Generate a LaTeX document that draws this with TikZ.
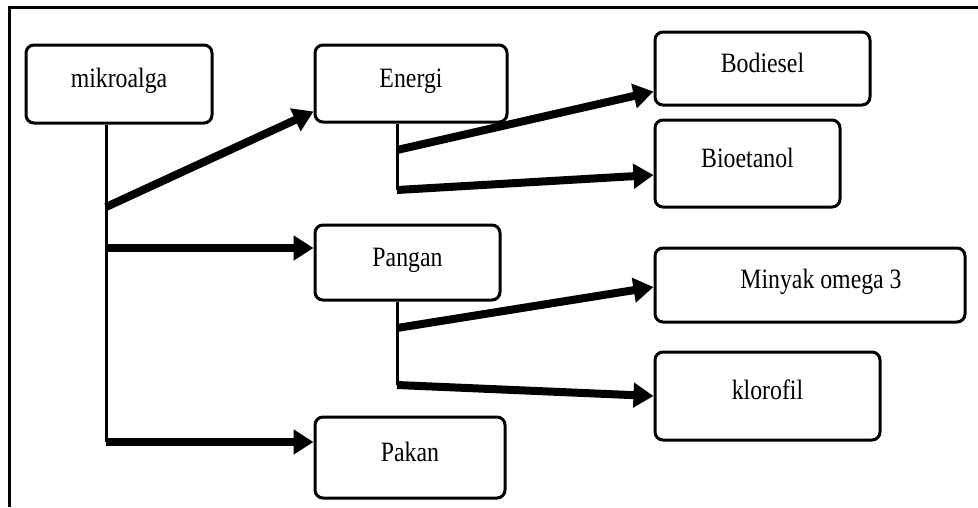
\documentclass[tikz,border=0pt]{standalone}
\usepackage{fontspec}
\setmainfont[FakeStretch=0.85]{Liberation Serif}
\usetikzlibrary{arrows.meta}

\begin{document}
\begin{tikzpicture}[x=1pt, y=-1pt, >={Triangle[length=20pt,width=24pt]},
  box/.style={draw, line width=3pt, rounded corners=8pt, inner sep=0pt,
    font=\fontsize{28}{30}\selectfont, text height=19pt, text depth=12pt},
  trunk/.style={line width=3pt},
  fat/.style={->, line width=8pt}]
\useasboundingbox (0,0) rectangle (978,507);
\draw[trunk] (9,507) -- (9,7) -- (978,7);

\node (mikro) at (119,84) [box, minimum width=186pt, minimum height=78pt] {mikroalga};
\node (energi) at (411,83.5) [box, minimum width=192pt, minimum height=77pt] {Energi};
\node (pangan) at (407.5,262.5) [box, minimum width=185pt, minimum height=75pt] {Pangan};
\node (pakan) at (410,457.5) [box, minimum width=190pt, minimum height=81pt] {Pakan};
\node (bodi) at (762.5,68.5) [box, minimum width=215pt, minimum height=73pt] {Bodiesel};
\node (bioet) at (747.5,163.5) [box, minimum width=185pt, minimum height=87pt] {Bioetanol};
\node (minyak) at (810,285) [box, minimum width=310pt, minimum height=74pt] {\hspace{22pt}Minyak omega 3};
\node (klor) at (767.5,396) [box, minimum width=225pt, minimum height=88pt] {klorofil};

\coordinate (m1) at (106,207);
\coordinate (m2) at (106,248);
\coordinate (m3) at (106,442);
\coordinate (e1) at (397,150);
\coordinate (e2) at (397,190);
\coordinate (p1) at (397,328);
\coordinate (p2) at (397,385);

% mikroalga
\draw[trunk] (mikro.south -| m3) -- (m3);
\draw[fat] (m1) -- ([yshift=12pt]energi.south west);
\draw[fat] (m2) -- (pangan.west |- m2);
\draw[fat] (m3) -- (pakan.west |- m3);

% energi
\draw[trunk] (energi.south -| e2) -- (e2);
\draw[fat] (e1) -- ([yshift=15pt]bodi.south west);
\draw[fat] (e2) -- ([yshift=-11.5pt]bioet.west);

% pangan
\draw[trunk] (pangan.south -| p2) -- (p2);
\draw[fat] (p1) -- ([yshift=-2pt]minyak.west);
\draw[fat] (p2) -- (klor.west);
\end{tikzpicture}
\end{document}
